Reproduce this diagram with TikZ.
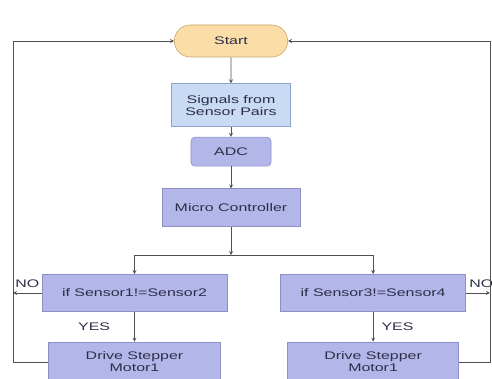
\documentclass[tikz,border=0pt]{standalone}
\usepackage{fontspec}
\newfontfamily\chartfont{Liberation Sans}[FakeStretch=1.45]
\usepackage{tikz}
\usetikzlibrary{arrows,shapes.misc}
\usetikzlibrary{positioning}

\definecolor{startfill}{HTML}{FBDDA8}
\definecolor{startline}{HTML}{C9A66B}
\definecolor{signalfill}{HTML}{C8DAF4}
\definecolor{signalline}{HTML}{8AA4CC}
\definecolor{blockfill}{HTML}{B3B6E9}
\definecolor{blockline}{HTML}{8C8FC8}
\definecolor{chartink}{HTML}{2E2E48}
\definecolor{wire}{HTML}{505050}

\begin{document}
\begin{tikzpicture}[->, >=stealth, auto, thick, draw=wire, font=\chartfont\fontsize{11}{12}\selectfont, text=chartink]
    \tikzstyle{every node}=[draw=none]
    \tikzstyle{terminal}=[rounded rectangle, draw=startline, fill=startfill, line width=0.6pt, minimum width=120pt, minimum height=32pt]
    \tikzstyle{input}=[rectangle, draw=signalline, fill=signalfill, line width=0.6pt, minimum width=119pt, minimum height=43pt, align=center]
    \tikzstyle{block}=[rectangle, draw=blockline, fill=blockfill, line width=0.6pt, align=center]
    \tikzstyle{tag}=[inner sep=0pt]

    \useasboundingbox (0pt,0pt) rectangle (492pt,-379pt);

    \node[terminal] (start) at (231pt,-41pt) {Start};
    \node[input] (signals) [below=26pt of start] {Signals from\\Sensor Pairs};
    \node[block, rounded corners=4pt, minimum width=80pt, minimum height=29pt] (adc) [below=10pt of signals] {ADC};
    \node[block, minimum width=138pt, minimum height=38pt] (micro) [below=22pt of adc] {Micro Controller};
    \node[block, minimum width=185pt, minimum height=37pt] (ifone) [below=47pt of micro, xshift=-96.5pt] {if Sensor1!=Sensor2};
    \node[block, minimum width=185pt, minimum height=37pt] (iftwo) [right=53pt of ifone] {if Sensor3!=Sensor4};
    \node[block, minimum width=172pt, minimum height=40pt] (driveone) [below=30pt of ifone] {Drive Stepper\\Motor1};
    \node[block, minimum width=171pt, minimum height=40pt] (drivetwo) [below=30pt of iftwo] {Drive Stepper\\Motor1};

    \coordinate[below=28pt of micro] (split);
    \coordinate (railL) at (13pt,-41pt);
    \coordinate (railR) at (490pt,-41pt);

    \path
    (start)   edge [] node {} (signals)
    (signals) edge [] node {} (adc)
    (adc)     edge [] node {} (micro)
    (micro)   edge [] node {} (split)
    (ifone)   edge [] node[tag, left=24pt] {YES} (driveone)
    (iftwo)   edge [] node[tag, right=8pt] {YES} (drivetwo);

    \draw (split) -| (ifone);
    \draw (split) -| (iftwo);

    \draw (ifone.west) -- (ifone.west -| railL) node[tag, anchor=south west, xshift=2pt, yshift=5pt] {NO};
    \draw (iftwo.east) -- (iftwo.east -| railR);
    \node[tag, anchor=south west, xshift=3pt, yshift=5pt] (notwo) at (iftwo.east) {NO};

    \draw (driveone.west) -| (railL) -- (start.west);
    \draw (drivetwo.east) -| (railR) -- (start.east);

  \end{tikzpicture}
\end{document}
